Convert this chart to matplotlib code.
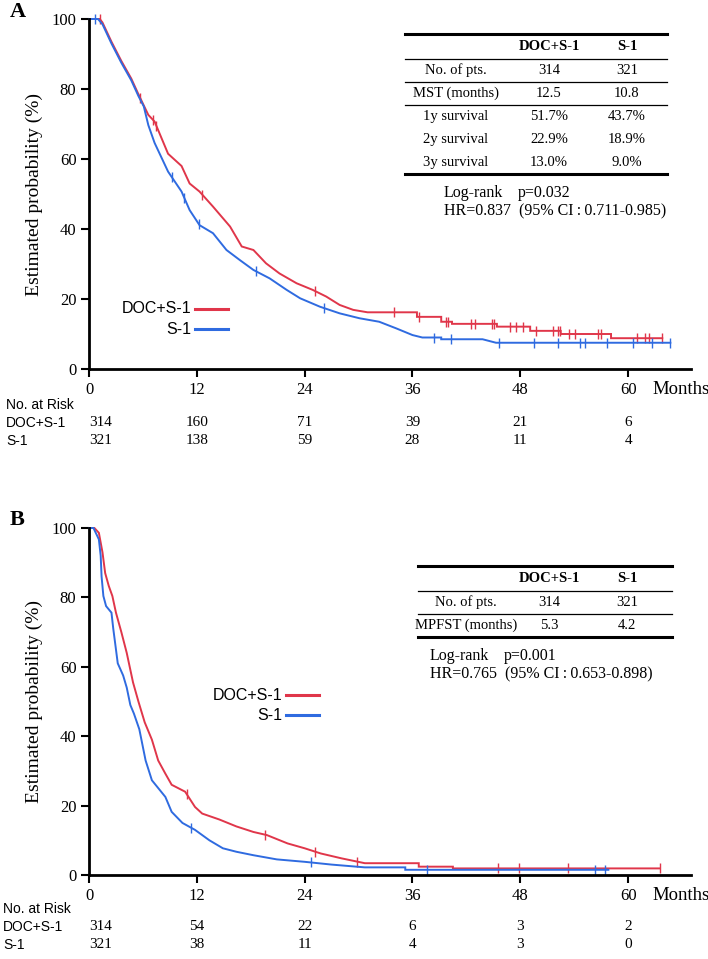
import numpy as np
import matplotlib
matplotlib.use('Agg')
import matplotlib.pyplot as plt
from matplotlib.lines import Line2D

SERIF = 'Liberation Serif'
SANS = 'Liberation Sans'
RED = '#e0364a'
BLUE = '#2f6be0'

# ---- panel A : overall survival ----
a_doc_t = [0, 1.2, 1.5, 2.5, 3.6, 4.7, 5.5, 6.6, 7.3, 8.8, 10.3, 11.2, 12.3, 13.8, 15.7, 17.0,
           18.3, 19.7, 21.2, 23.1, 24.9, 26.4, 27.9, 29.4, 31.0, 36.5, 36.5, 39.2, 39.2, 40.4,
           40.4, 45.4, 45.4, 49.1, 49.1, 52.5, 52.5, 58.1, 58.1, 63.8]
a_doc_s = [100, 100, 99, 93.5, 88, 83, 78.5, 72.6, 70.7, 61.5, 58, 53, 50.7, 46.4, 40.7, 35,
           34, 30.2, 27.3, 24.5, 22.6, 20.7, 18.3, 16.9, 16.2, 16.2, 14.9, 14.9, 13.5, 13.5,
           12.9, 12.9, 12.1, 12.1, 10.9, 10.9, 10.0, 10.0, 8.8, 8.8]
a_s1_t = [0, 1.0, 1.5, 2.5, 3.6, 4.7, 5.5, 6.1, 6.6, 7.3, 8.8, 10.3, 11.2, 12.3, 13.8, 15.3,
          16.8, 18.3, 20.1, 22.0, 23.5, 25.7, 27.9, 30.1, 32.3, 34.2, 36.0, 37.1, 39.2, 39.2,
          43.8, 45.3, 64.7]
a_s1_s = [100, 100, 98.5, 93, 87.5, 82.5, 78, 75, 69.7, 64.6, 56.4, 50.7, 45.4, 41.1, 38.8, 34,
          31.1, 28.3, 25.9, 22.6, 20.2, 17.8, 15.9, 14.5, 13.5, 11.6, 9.7, 9.0, 9.0, 8.5,
          8.5, 7.5, 7.5]
a_doc_cens = [1.2, 5.7, 7.1, 7.5, 12.6, 25.1, 34.0, 36.7, 39.7, 40.0, 42.5, 43.0, 44.9, 45.1,
              46.8, 47.5, 48.3, 49.8, 51.6, 52.2, 52.4, 53.4, 54.1, 56.7, 57.0, 61.0, 61.9,
              62.3, 63.8]
a_s1_cens = [0.7, 9.2, 10.6, 12.2, 18.6, 26.1, 38.4, 40.3, 45.6, 49.5, 52.2, 54.7, 55.2, 57.6,
             60.6, 62.7, 64.7]
a_risk_doc = [314, 160, 71, 39, 21, 6]
a_risk_s1 = [321, 138, 59, 28, 11, 4]
a_table_rows = ['No. of pts.', 'MST (months)', '1y survival', '2y survival', '3y survival']
a_table_doc = ['314', '12.5', '51.7%', '22.9%', '13.0%']
a_table_s1 = ['321', '10.8', '43.7%', '18.9%', '9.0%']
a_stats = ['Log-rank', 'p=0.032', 'HR=0.837  (95% CI\u2009:\u20090.711-0.985)']

# ---- panel B : progression-free survival ----
b_doc_t = [0, 0.6, 1.1, 1.5, 1.8, 2.2, 2.6, 3.0, 3.6, 4.2, 4.9, 5.5, 6.2, 7.0, 7.7, 8.5, 9.2,
           10.7, 11.8, 12.6, 14.5, 16.4, 18.3, 19.8, 22.1, 24.0, 25.8, 28.1, 30.7, 36.7, 36.7,
           40.5, 40.5, 63.5]
b_doc_s = [100, 100, 98.6, 93, 87, 83.3, 80.4, 75.6, 70, 64, 55.5, 50, 44, 39, 33, 29.2, 26,
           24, 19.6, 17.7, 16, 14, 12.4, 11.5, 9.1, 7.7, 6.2, 4.8, 3.4, 3.4, 2.4, 2.4, 1.9, 1.9]
b_s1_t = [0, 0.5, 1.1, 1.3, 1.4, 1.6, 1.9, 2.5, 2.7, 3.0, 3.2, 3.8, 4.2, 4.6, 5.0, 5.6, 6.3,
          7.0, 8.5, 9.2, 10.4, 11.8, 13.4, 14.9, 16.4, 18.3, 20.9, 24.0, 27.0, 30.7, 35.2,
          35.2, 57.8]
b_s1_s = [100, 100, 96.7, 92, 86, 80.4, 77.5, 75.6, 71, 65, 61, 57.5, 54, 49, 46.5, 42, 33,
          27.3, 22.5, 18.2, 15, 13, 10, 7.7, 6.7, 5.7, 4.5, 3.8, 3.0, 2.2, 2.2, 1.5, 1.5]
b_doc_cens = [10.9, 19.6, 25.2, 29.8, 45.5, 47.9, 53.3, 63.5]
b_s1_cens = [11.4, 24.7, 37.6, 56.3, 57.4]
b_risk_doc = [314, 54, 22, 6, 3, 2]
b_risk_s1 = [321, 38, 11, 4, 3, 0]
b_table_rows = ['No. of pts.', 'MPFST (months)']
b_table_doc = ['314', '5.3']
b_table_s1 = ['321', '4.2']
b_stats = ['Log-rank', 'p=0.001', 'HR=0.765  (95% CI\u2009:\u20090.653-0.898)']

month_ticks = [0, 12, 24, 36, 48, 60]

W, H = 708, 959
fig = plt.figure(figsize=(W / 100, H / 100), dpi=100)


def fx(x):
    return x / W


def fy(y):
    return 1 - y / H


def hline(x0, x1, y, lw, color='black'):
    fig.add_artist(Line2D([fx(x0), fx(x1)], [fy(y), fy(y)], color=color, lw=lw,
                          transform=fig.transFigure))


def km_axes(top, bottom):
    ax = fig.add_axes([fx(89), fy(bottom), fx(691) - fx(89), fy(top) - fy(bottom)])
    ax.set_xlim(0, 67)
    ax.set_ylim(0, 100)
    for s in ['top', 'right']:
        ax.spines[s].set_visible(False)
    for s in ['left', 'bottom']:
        ax.spines[s].set_linewidth(2)
    ax.set_xticks(month_ticks)
    ax.set_yticks([0, 20, 40, 60, 80, 100])
    ax.tick_params(direction='out', length=6, width=1.5, labelsize=12, pad=3)
    for lab in ax.get_xticklabels() + ax.get_yticklabels():
        lab.set_fontfamily(SERIF)
    ax.set_ylabel('Estimated probability (%)', fontfamily=SERIF, fontsize=14, labelpad=6)
    fig.text(fx(652), fy(bottom + 21), 'Months', fontfamily=SERIF, fontsize=13.5,
             ha='left', va='center')
    return ax


def curve(ax, t, s, cens, color):
    ax.plot(t, s, color=color, lw=1.4, clip_on=False, solid_joinstyle='miter')
    ax.plot(cens, np.interp(cens, t, s), ls='none', marker='|', ms=7, mew=1.0,
            color=color, clip_on=False)


def legend(x_right, y_red, y_blue):
    for y, lab, c in [(y_red, 'DOC+S-1', RED), (y_blue, 'S-1', BLUE)]:
        fig.text(fx(x_right), fy(y), lab, fontfamily=SANS, fontsize=11.5,
                 ha='right', va='center')
        hline(x_right + 4, x_right + 37, y, 2.2, c)


def risk_table(ax, x_lab, y0, doc, s1):
    fig.text(fx(x_lab), fy(y0), 'No. at Risk', fontfamily=SANS, fontsize=10, va='center')
    fig.text(fx(x_lab), fy(y0 + 18), 'DOC+S-1', fontfamily=SANS, fontsize=10, va='center')
    fig.text(fx(x_lab), fy(y0 + 36), 'S-1', fontfamily=SANS, fontsize=10, va='center')
    for i, m in enumerate(month_ticks):
        xm = m if m > 0 else 1.3
        xf = fig.transFigure.inverted().transform(ax.transData.transform((xm, 0)))[0]
        fig.text(xf, fy(y0 + 18), str(doc[i]), fontfamily=SERIF, fontsize=11,
                 ha='center', va='center')
        fig.text(xf, fy(y0 + 36), str(s1[i]), fontfamily=SERIF, fontsize=11,
                 ha='center', va='center')


def stats_table(top, x0, x1, x_lab, x_stat, rows, doc, s1, stats):
    hline(x0, x1, top, 2.2)
    fig.text(fx(549), fy(top + 13), 'DOC+S-1', fontfamily=SERIF, fontsize=10.5,
             fontweight='bold', ha='center', va='center')
    fig.text(fx(627), fy(top + 13), 'S-1', fontfamily=SERIF, fontsize=10.5,
             fontweight='bold', ha='center', va='center')
    hline(x0, x1, top + 25, 0.9)
    y = top + 25
    for i, r in enumerate(rows):
        y += 11.5
        fig.text(fx(x_lab), fy(y), r, fontfamily=SERIF, fontsize=10.5, ha='center',
                 va='center')
        fig.text(fx(549), fy(y), doc[i], fontfamily=SERIF, fontsize=10.5, ha='center',
                 va='center')
        fig.text(fx(627), fy(y), s1[i], fontfamily=SERIF, fontsize=10.5, ha='center',
                 va='center')
        y += 11.5
        if i < 2 and i < len(rows) - 1:
            hline(x0, x1, y, 0.9)
    hline(x0, x1, y, 2.2)
    fig.text(fx(x_stat), fy(y + 19), stats[0], fontfamily=SERIF, fontsize=11.5, va='center')
    fig.text(fx(x_stat + 74), fy(y + 19), stats[1], fontfamily=SERIF, fontsize=11.5,
             va='center')
    fig.text(fx(x_stat), fy(y + 37), stats[2], fontfamily=SERIF, fontsize=11.5, va='center')


# panel A
axA = km_axes(19, 369)
curve(axA, a_doc_t, a_doc_s, a_doc_cens, RED)
curve(axA, a_s1_t, a_s1_s, a_s1_cens, BLUE)
fig.text(fx(10), fy(12), 'A', fontfamily=SERIF, fontsize=16, fontweight='bold', va='center')
legend(191, 309, 329)
stats_table(34, 405, 667, 456, 444, a_table_rows, a_table_doc, a_table_s1, a_stats)
risk_table(axA, 6, 405, a_risk_doc, a_risk_s1)

# panel B
axB = km_axes(528, 875)
curve(axB, b_doc_t, b_doc_s, b_doc_cens, RED)
curve(axB, b_s1_t, b_s1_s, b_s1_cens, BLUE)
fig.text(fx(10), fy(520), 'B', fontfamily=SERIF, fontsize=16, fontweight='bold', va='center')
legend(282, 695, 715)
stats_table(566, 418, 672, 466, 430, b_table_rows, b_table_doc, b_table_s1, b_stats)
risk_table(axB, 3, 909, b_risk_doc, b_risk_s1)

fig.savefig('out.png', dpi=100)
